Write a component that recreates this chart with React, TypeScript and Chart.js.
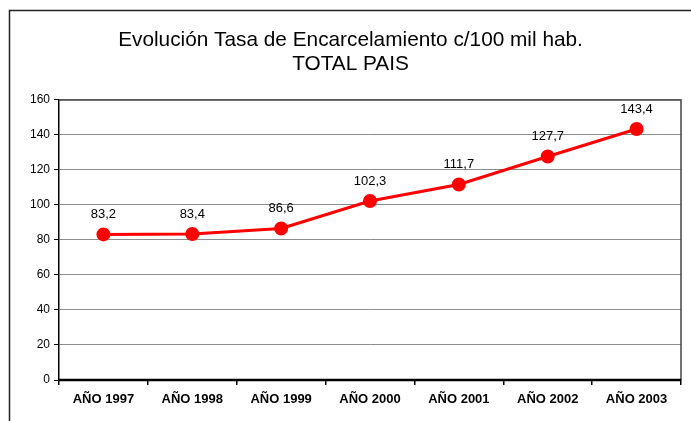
import React, { useEffect, useRef } from "react";
import { Chart, registerables } from "chart.js";

Chart.register(...registerables);

const categories = ["AÑO 1997", "AÑO 1998", "AÑO 1999", "AÑO 2000", "AÑO 2001", "AÑO 2002", "AÑO 2003"];
const tasa = [83.2, 83.4, 86.6, 102.3, 111.7, 127.7, 143.4];
const titleLines = ["Evolución Tasa de Encarcelamiento c/100 mil hab.", "TOTAL PAIS"];
const yMin = 0;
const yMax = 160;
const yStep = 20;

const FONT = "'Liberation Sans', Arial, sans-serif";

const framePlugin = {
  id: "frame",
  beforeDraw(chart: any) {
    const ctx = chart.ctx;
    ctx.save();
    ctx.fillStyle = "#ffffff";
    ctx.fillRect(0, 0, chart.width, chart.height);
    ctx.strokeStyle = "#222222";
    ctx.lineWidth = 1.5;
    ctx.beginPath();
    ctx.moveTo(9.5, chart.height);
    ctx.lineTo(9.5, 10.5);
    ctx.lineTo(chart.width, 10.5);
    ctx.stroke();
    ctx.restore();
  },
  afterDraw(chart: any) {
    const { ctx, chartArea } = chart;
    ctx.save();
    ctx.strokeStyle = "#444444";
    ctx.lineWidth = 1.5;
    ctx.beginPath();
    ctx.moveTo(chartArea.left, chartArea.top);
    ctx.lineTo(chartArea.right, chartArea.top);
    ctx.lineTo(chartArea.right, chartArea.bottom);
    ctx.stroke();
    ctx.strokeStyle = "#000000";
    ctx.lineWidth = 2.5;
    ctx.beginPath();
    ctx.moveTo(chartArea.left, chartArea.bottom);
    ctx.lineTo(chartArea.right, chartArea.bottom);
    ctx.stroke();
    ctx.restore();
  },
};

const labelPlugin = {
  id: "valueLabels",
  afterDatasetsDraw(chart: any) {
    const ctx = chart.ctx;
    const meta = chart.getDatasetMeta(0);
    ctx.save();
    ctx.font = `13px ${FONT}`;
    ctx.fillStyle = "#000000";
    ctx.textAlign = "center";
    ctx.textBaseline = "middle";
    meta.data.forEach((pt: any, i: number) => {
      const txt = tasa[i].toFixed(1).replace(".", ",");
      ctx.fillText(txt, pt.x, pt.y - 20);
    });
    ctx.restore();
  },
};

export default function App() {
  const ref = useRef<HTMLCanvasElement>(null);
  useEffect(() => {
    if (!ref.current) return;
    const chart = new Chart(ref.current, {
      type: "line",
      data: {
        labels: categories,
        datasets: [
          {
            data: tasa,
            borderColor: "#ff0000",
            backgroundColor: "#ff0000",
            borderWidth: 3,
            pointRadius: 5.5,
            pointBackgroundColor: "#ff0000",
            pointBorderColor: "#ff0000",
            tension: 0,
          },
        ],
      },
      options: {
        responsive: false,
        animation: false,
        layout: { padding: { left: 20, right: 10, top: 0, bottom: 0 } },
        plugins: {
          legend: { display: false },
          tooltip: { enabled: false },
          title: {
            display: true,
            text: titleLines,
            color: "#000000",
            font: { family: FONT, size: 20.8, weight: "normal", lineHeight: 1.12 },
            padding: { top: 29, bottom: 24.4 },
          },
        },
        scales: {
          x: {
            offset: true,
            grid: {
              offset: true,
              drawOnChartArea: false,
              drawTicks: true,
              tickLength: 5,
              color: "#000000",
              lineWidth: 1.5,
            },
            border: { display: true, color: "#000000", width: 2 },
            ticks: {
              color: "#000000",
              font: { family: FONT, size: 13, weight: "bold" },
              padding: 7,
              maxRotation: 0,
              autoSkip: false,
            },
            afterFit(scale: any) {
              scale.height = 41;
            },
          },
          y: {
            min: yMin,
            max: yMax,
            ticks: {
              stepSize: yStep,
              color: "#000000",
              font: { family: FONT, size: 12 },
              padding: 4,
            },
            grid: {
              color: "#8c8c8c",
              lineWidth: 1,
              tickLength: 5,
              tickColor: "#000000",
            },
            border: { display: true, color: "#000000", width: 1.5 },
            afterFit(scale: any) {
              scale.width = 39;
            },
          },
        },
      },
      plugins: [framePlugin, labelPlugin],
    } as any);
    return () => chart.destroy();
  }, []);
  return (
    <div style={{ position: "absolute", left: 0, top: 0, width: 691, height: 421 }}>
      <canvas ref={ref} width={691} height={421} style={{ display: "block" }} />
    </div>
  );
}
